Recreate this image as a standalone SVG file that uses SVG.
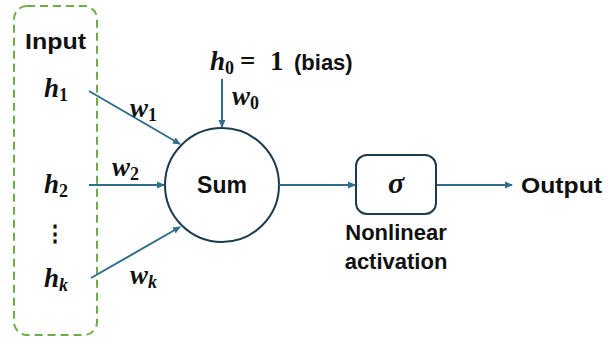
<svg xmlns="http://www.w3.org/2000/svg" width="608" height="341" viewBox="0 0 608 341">
<defs>
<marker id="ah" markerWidth="8" markerHeight="8" refX="7" refY="4" orient="auto" markerUnits="userSpaceOnUse">
<path d="M0,0.5 L8,4 L0,7.5 z" fill="#2e6e8e"/>
</marker>
<style>
.lbl{font-family:"Liberation Sans",Arial,sans-serif;font-weight:bold;font-style:normal;font-size:22px;fill:#111}
.m{font-family:"Liberation Serif","DejaVu Serif",serif;font-weight:bold;font-style:italic;font-size:27px;fill:#111}
.sub{font-family:"Liberation Serif","DejaVu Serif",serif;font-weight:bold;font-style:normal;font-size:18px;fill:#111}
.subi{font-family:"Liberation Serif","DejaVu Serif",serif;font-weight:bold;font-style:italic;font-size:18px;fill:#111}
.c{stroke:#2e6e8e;stroke-width:2;fill:none;marker-end:url(#ah)}
</style>
</defs>
<g id="input-box">
<rect x="14" y="6" width="83" height="329" rx="13" fill="none" stroke="#6aae45" stroke-width="2" stroke-dasharray="8,5"/>
<text class="lbl" x="25" y="49" textLength="61" lengthAdjust="spacingAndGlyphs">Input</text>
</g>
<g id="h1"><text class="m" x="44" y="97">h<tspan class="sub" dy="4">1</tspan></text></g>
<g id="h2"><text class="m" x="44" y="193">h<tspan class="sub" dy="4">2</tspan></text></g>
<g id="dots"><text class="lbl" x="55" y="241" text-anchor="middle">⋮</text></g>
<g id="hk"><text class="m" x="44" y="287">h<tspan class="subi" dy="4">k</tspan></text></g>
<g id="bias"><text class="m" x="210" y="70">h<tspan class="sub" dy="4">0</tspan><tspan x="240" dy="-4" style="font-style:normal">=</tspan><tspan x="270" style="font-style:normal">1</tspan><tspan class="lbl" x="294">(bias)</tspan></text></g>
<g id="sum">
<circle cx="222" cy="185" r="57" fill="#fff" stroke="#1d3b4f" stroke-width="2"/>
<text class="lbl" x="222" y="193" text-anchor="middle" style="font-size:23px">Sum</text>
</g>
<g id="sigma">
<rect x="356" y="155" width="80" height="59" rx="11" fill="#fff" stroke="#1d3b4f" stroke-width="2"/>
<text class="m" x="396" y="193" text-anchor="middle" style="font-size:30px">σ</text>
<text class="lbl" x="396" y="240" text-anchor="middle">Nonlinear</text>
<text class="lbl" x="396" y="269" text-anchor="middle">activation</text>
</g>
<g id="output"><text class="lbl" x="521" y="193" textLength="81" lengthAdjust="spacingAndGlyphs">Output</text></g>
<g id="connectors">
<line class="c" x1="89" y1="91" x2="180" y2="144"/>
<line class="c" x1="89" y1="185" x2="164" y2="185"/>
<line class="c" x1="91" y1="278" x2="180" y2="227"/>
<line class="c" x1="222" y1="79" x2="222" y2="127"/>
<line class="c" x1="279" y1="185" x2="355" y2="185"/>
<line class="c" x1="437" y1="185" x2="512" y2="185"/>
<text class="m" x="130" y="117">w<tspan class="sub" dy="4">1</tspan></text>
<text class="m" x="112" y="176">w<tspan class="sub" dy="4">2</tspan></text>
<text class="m" x="130" y="284">w<tspan class="subi" dy="4">k</tspan></text>
<text class="m" x="232" y="105">w<tspan class="sub" dy="4">0</tspan></text>
</g>
</svg>
